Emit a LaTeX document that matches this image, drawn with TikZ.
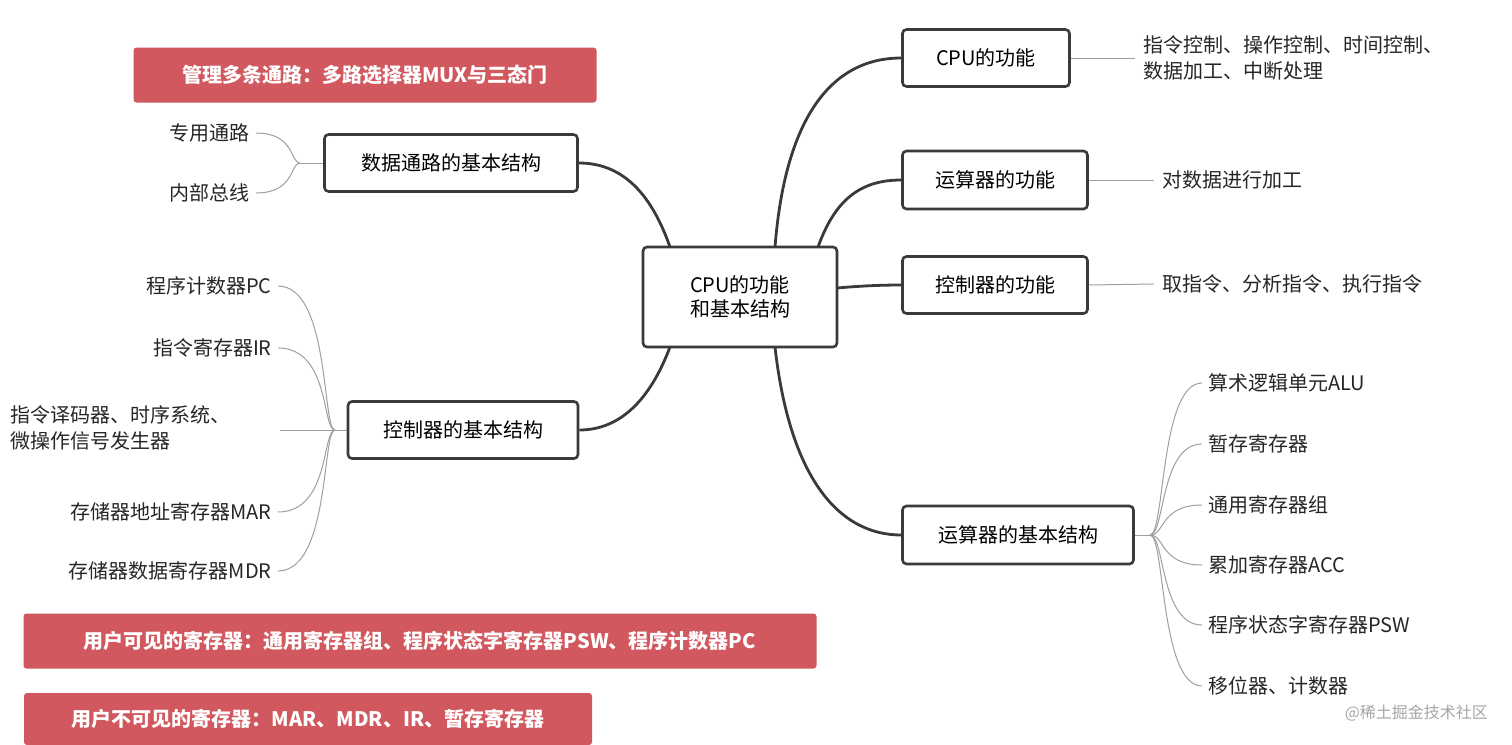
\documentclass[tikz,border=0pt]{standalone}
\usepackage{fontspec}
\setmainfont{Noto Sans CJK SC}
\definecolor{redbox}{HTML}{D2585F}
\definecolor{edge}{HTML}{3A3A3A}
\begin{document}
\begin{tikzpicture}[x=0.5pt,y=-0.5pt,
  box/.style={draw=edge,line width=1.3pt,rounded corners=2pt,fill=white,font=\fontsize{10}{12}\selectfont,inner sep=0pt,align=center},
  red/.style={fill=redbox,rounded corners=1.5pt,text=white,font=\fontsize{10}{12}\selectfont\bfseries,inner sep=0pt},
  leaf/.style={font=\fontsize{10}{13}\selectfont,text=black!85,inner sep=0pt,align=left},
  main/.style={draw=edge,line width=1.4pt},
  thin/.style={draw=gray!75,line width=0.5pt}]
\useasboundingbox (0,0) rectangle (1512,745);
\fill[white] (0,0) rectangle (1512,745);
% main boxes
\node[box,minimum width=97pt,minimum height=50pt] (c) at (740,297) {CPU的功能\\和基本结构};
\node[box,minimum width=83.5pt,minimum height=28.5pt] (r1) at (986,58) {CPU的功能};
\node[box,minimum width=92.5pt,minimum height=29pt] (r2) at (995,180) {运算器的功能};
\node[box,minimum width=92.5pt,minimum height=28.5pt] (r3) at (995,285) {控制器的功能};
\node[box,minimum width=115.5pt,minimum height=29pt] (r4) at (1018,535) {运算器的基本结构};
\node[box,minimum width=126.5pt,minimum height=28.5pt] (l1) at (451,163) {数据通路的基本结构};
\node[box,minimum width=115pt,minimum height=28.5pt] (l2) at (463,430) {控制器的基本结构};
% red boxes
\node[red,minimum width=231.5pt,minimum height=27.5pt] (n1) at (365,75) {管理多条通路：多路选择器MUX与三态门};
\node[red,minimum width=396.5pt,minimum height=27.5pt] (n2) at (420,641) {用户可见的寄存器：通用寄存器组、程序状态字寄存器PSW、程序计数器PC};
\node[red,minimum width=284pt,minimum height=26pt] (n3) at (308,719) {用户不可见的寄存器：MAR、MDR、IR、暂存寄存器};
% main connectors
\coordinate (ct1) at (775,247);
\coordinate (ct2) at (818,247);
\coordinate (cr) at (837,288);
\coordinate (cb) at (775,347);
\coordinate (cl1) at (670,247);
\coordinate (cl2) at (670,347);
\draw[main] (ct1) .. controls (785,120) and (830,58) .. (r1.west);
\draw[main] (ct2) .. controls (835,200) and (860,180) .. (r2.west);
\draw[main] (cr) .. controls (860,286) and (880,285) .. (r3.west);
\draw[main] (cb) .. controls (790,480) and (840,535) .. (r4.west);
\draw[main] (cl1) .. controls (650,190) and (620,163) .. (l1.east);
\draw[main] (cl2) .. controls (650,400) and (620,430) .. (l2.east);
% right leaves
\node[leaf,anchor=west] (t1) at (1143,58) {指令控制、操作控制、时间控制、\\数据加工、中断处理};
\node[leaf,anchor=west] (t2) at (1162,180) {对数据进行加工};
\node[leaf,anchor=west] (t3) at (1162,284) {取指令、分析指令、执行指令};
\draw[thin] (r1.east) -- ([xshift=-4pt]t1.west);
\draw[thin] (r2.east) -- ([xshift=-4pt]t2.west);
\draw[thin] (r3.east) -- ([xshift=-4pt]t3.west);
\coordinate (rj) at (1150,535);
\draw[thin] (r4.east) -- (rj);
\foreach \t/\y [count=\i] in {算术逻辑单元ALU/383,暂存寄存器/444,通用寄存器组/505,累加寄存器ACC/565,程序状态字寄存器PSW/625,移位器、计数器/686}{
  \node[leaf,anchor=west] (a\i) at (1208,\y) {\t};
  \draw[thin] (rj) .. controls (1165,535) and (1160,\y) .. ([xshift=-3pt]a\i.west);
}
% left leaves
\node[leaf,anchor=east] (d1) at (250,133) {专用通路};
\node[leaf,anchor=east] (d2) at (250,193) {内部总线};
\coordinate (dj) at (300,163);
\draw[thin] (l1.west) -- (dj);
\draw[thin] (dj) .. controls (290,163) and (295,133) .. ([xshift=3pt]d1.east);
\draw[thin] (dj) .. controls (290,163) and (295,193) .. ([xshift=3pt]d2.east);
\node[leaf,anchor=east] (k1) at (272,286) {程序计数器PC};
\node[leaf,anchor=east] (k2) at (272,348) {指令寄存器IR};
\node[leaf,anchor=west] (k3) at (10,428) {指令译码器、时序系统、\\微操作信号发生器};
\node[leaf,anchor=east] (k4) at (272,512) {存储器地址寄存器MAR};
\node[leaf,anchor=east] (k5) at (272,571) {存储器数据寄存器MDR};
\coordinate (kj) at (335,430);
\draw[thin] (l2.west) -- (kj);
\foreach \n/\y in {k1/286,k2/348,k4/512,k5/571}{
  \draw[thin] (kj) .. controls (322,430) and (330,\y) .. ([xshift=3pt]\n.east);
}
\draw[thin] (kj) -- (280,430);
\node[font=\fontsize{8}{10}\selectfont,text=gray!70,anchor=east] (wm) at (1495,713) {@稀土掘金技术社区};
\end{tikzpicture}
\end{document}
